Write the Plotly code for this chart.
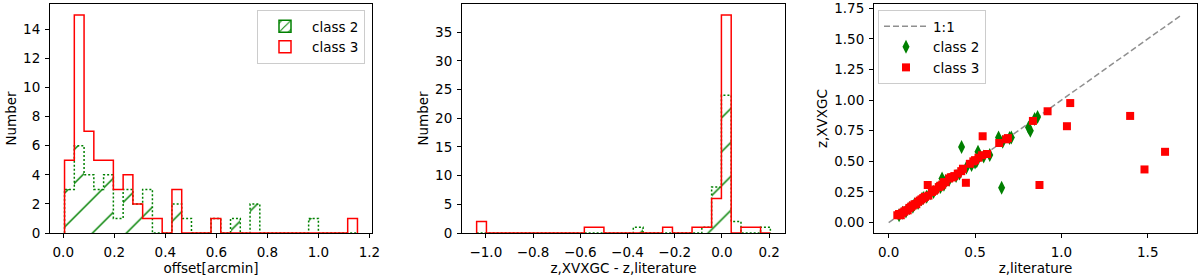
import numpy as np
import plotly.graph_objects as go

# histogram of offsets, 30 bins shared by both classes
offset_range = [0.005, 1.153]
offset_class2 = [3, 6, 4, 3, 4, 1, 3, 2, 3, 0, 0, 2, 1, 0, 0, 1, 0, 1, 0, 2, 0, 0, 0, 0, 0, 1, 0, 0, 0, 0]
offset_class3 = [5, 15, 7, 5, 5, 3, 4, 2, 1, 1, 0, 3, 0, 0, 0, 1, 0, 0, 0, 0, 0, 0, 0, 0, 0, 0, 0, 0, 0, 1]

# histogram of z,XVXGC - z,literature, 30 bins
dz_range = [-1.039, 0.205]
dz_class2 = [0, 0, 0, 0, 0, 0, 0, 0, 0, 0, 0, 0, 0, 0, 0, 0, 1, 0, 0, 0, 0, 0, 0, 1, 8, 24, 2, 0, 0, 1]
dz_class3 = [2, 0, 0, 0, 0, 0, 0, 0, 0, 0, 0, 1, 1, 0, 0, 0, 0, 0, 0, 1, 0, 0, 1, 1, 6, 38, 0, 1, 1, 0]

# redshift comparison
zlit_class2 = [0.422, 0.654, 0.517, 0.636, 0.309, 0.71, 0.81, 0.82, 0.862, 0.845, 0.585,
               0.06, 0.08, 0.10, 0.12, 0.14, 0.15, 0.17, 0.19, 0.20, 0.22, 0.24, 0.26, 0.28,
               0.30, 0.32, 0.33, 0.35, 0.39, 0.41, 0.45, 0.48, 0.50, 0.51, 0.55, 0.66, 0.70]
zx_class2 = [0.618, 0.285, 0.578, 0.695, 0.361, 0.695, 0.776, 0.75, 0.863, 0.845, 0.551,
             0.06, 0.08, 0.09, 0.12, 0.13, 0.15, 0.16, 0.19, 0.20, 0.21, 0.24, 0.25, 0.28,
             0.29, 0.31, 0.34, 0.35, 0.38, 0.40, 0.45, 0.47, 0.49, 0.50, 0.54, 0.66, 0.69]
zlit_class3 = [0.226, 0.447, 0.544, 0.873, 0.92, 1.051, 1.032, 1.398, 1.481, 1.60,
               0.05, 0.06, 0.07, 0.08, 0.09, 0.10, 0.11, 0.12, 0.13, 0.14, 0.15, 0.16, 0.17,
               0.18, 0.19, 0.20, 0.21, 0.23, 0.25, 0.26, 0.27, 0.29, 0.30, 0.31, 0.32, 0.33,
               0.35, 0.36, 0.37, 0.38, 0.40, 0.42, 0.43, 0.47, 0.49, 0.50, 0.52, 0.54, 0.57,
               0.64, 0.68, 0.69, 0.835]
zx_class3 = [0.307, 0.325, 0.705, 0.307, 0.909, 0.976, 0.787, 0.871, 0.434, 0.578,
             0.06, 0.07, 0.06, 0.08, 0.09, 0.10, 0.10, 0.12, 0.13, 0.14, 0.15, 0.15, 0.17,
             0.18, 0.19, 0.20, 0.21, 0.22, 0.25, 0.26, 0.27, 0.29, 0.30, 0.31, 0.33, 0.33,
             0.36, 0.37, 0.37, 0.38, 0.40, 0.42, 0.44, 0.48, 0.50, 0.51, 0.53, 0.55, 0.56,
             0.65, 0.68, 0.69, 0.83]
one_to_one = [0.0, 1.7]

GREEN = "green"
RED = "red"
FONT = "DejaVu Sans"
HATCH = dict(shape="/", fgcolor=GREEN, fgopacity=1, bgcolor="rgba(0,0,0,0)",
             fillmode="replace", size=24, solidity=0.06)

fig = go.Figure()


def add_hist(counts, rng, color, dash, hatch, xa, ya):
    edges = np.linspace(rng[0], rng[1], len(counts) + 1)
    if hatch:
        fig.add_trace(go.Bar(
            x=(edges[:-1] + edges[1:]) / 2, y=counts, width=np.diff(edges),
            marker=dict(color=color, line=dict(width=0), pattern=hatch),
            showlegend=False, hoverinfo="skip", xaxis=xa, yaxis=ya))
    xs = np.concatenate([[edges[0]], edges])
    ys = np.concatenate([[0], counts, [0]])
    fig.add_trace(go.Scatter(
        x=xs, y=ys, mode="lines", line=dict(color=color, width=1.5, dash=dash, shape="hv"),
        showlegend=False, xaxis=xa, yaxis=ya))


add_hist(offset_class2, offset_range, GREEN, "2px,2px", HATCH, "x", "y")
add_hist(offset_class3, offset_range, RED, "solid", None, "x", "y")
add_hist(dz_class2, dz_range, GREEN, "2px,2px", HATCH, "x2", "y2")
add_hist(dz_class3, dz_range, RED, "solid", None, "x2", "y2")

# legend entries of the first panel
fig.add_trace(go.Bar(x=[None], y=[None], name="class 2", legend="legend",
                     marker=dict(color=GREEN, line=dict(color=GREEN, width=1.5),
                                 pattern=dict(HATCH, size=8, solidity=0.15))))
fig.add_trace(go.Bar(x=[None], y=[None], name="class 3", legend="legend",
                     marker=dict(color="rgba(0,0,0,0)", line=dict(color=RED, width=1.5))))

# scatter panel
fig.add_trace(go.Scatter(x=one_to_one, y=one_to_one, mode="lines", name="1:1",
                         line=dict(color="#8f8f8f", width=1.5, dash="6px,3px"),
                         xaxis="x3", yaxis="y3", legend="legend3"))
fig.add_trace(go.Scatter(x=zlit_class2, y=zx_class2, mode="markers", name="class 2",
                         marker=dict(symbol="diamond-tall", size=10, color=GREEN),
                         error_y=dict(type="constant", value=0.015, color=GREEN, thickness=1.5, width=0),
                         xaxis="x3", yaxis="y3", legend="legend3"))
fig.add_trace(go.Scatter(x=zlit_class3, y=zx_class3, mode="markers", name="class 3",
                         marker=dict(symbol="square", size=8, color=RED),
                         error_y=dict(type="constant", value=0.015, color=RED, thickness=1.5, width=0),
                         xaxis="x3", yaxis="y3", legend="legend3"))

ax = dict(showline=True, linecolor="black", linewidth=1, mirror=True, ticks="outside",
          ticklen=4, tickcolor="black", showgrid=False, zeroline=False, automargin=False,
          tickfont=dict(size=13.5, color="black"), title_font=dict(size=13.5, color="black"))
xax = dict(ax, ticklabelstandoff=3)
yax = dict(ax, ticklabelstandoff=2)
ydom = [45 / 278, 274 / 278]
leg = dict(yanchor="top", y=268 / 278, bgcolor="white", bordercolor="#cccccc", borderwidth=1,
           itemwidth=44, font=dict(size=13.5))

fig.update_layout(
    width=1200, height=278, margin=dict(l=0, r=0, t=0, b=0, autoexpand=False),
    paper_bgcolor="white", plot_bgcolor="white",
    font=dict(family=FONT, size=13.5, color="black"),
    barmode="overlay", bargap=0,
    xaxis=dict(xax, domain=[50 / 1200, 372 / 1200], range=[-0.052, 1.21], tickvals=[0, 0.2, 0.4, 0.6, 0.8, 1.0, 1.2],
               tickformat=".1f", title=dict(text="offset[arcmin]", standoff=0), anchor="y"),
    yaxis=dict(yax, domain=ydom, range=[0, 15.75], dtick=2, title=dict(text="Number", standoff=3), anchor="x"),
    xaxis2=dict(xax, domain=[462 / 1200, 785 / 1200], range=[-1.101, 0.267], tick0=0, dtick=0.2,
                tickformat=".1f", title=dict(text="z,XVXGC - z,literature", standoff=0), anchor="y2"),
    yaxis2=dict(yax, domain=ydom, range=[0, 39.9], dtick=5, title=dict(text="Number", standoff=3), anchor="x2"),
    xaxis3=dict(xax, domain=[874 / 1200, 1197 / 1200], range=[-0.085, 1.785], dtick=0.5,
                tickformat=".1f", title=dict(text="z,literature", standoff=0), anchor="y3"),
    yaxis3=dict(yax, domain=ydom, range=[-0.085, 1.785], dtick=0.25, tickformat=".2f",
                title=dict(text="z,XVXGC", standoff=3), anchor="x3"),
    legend=dict(leg, x=365 / 1200, xanchor="right"),
    legend3=dict(leg, x=878 / 1200, xanchor="left"),
)

# drop the page's default body margin so the 1200x278 figure fills the window
fig.write_html("out.html", config={"displayModeBar": False},
               post_script="document.body.style.margin = '0';")
